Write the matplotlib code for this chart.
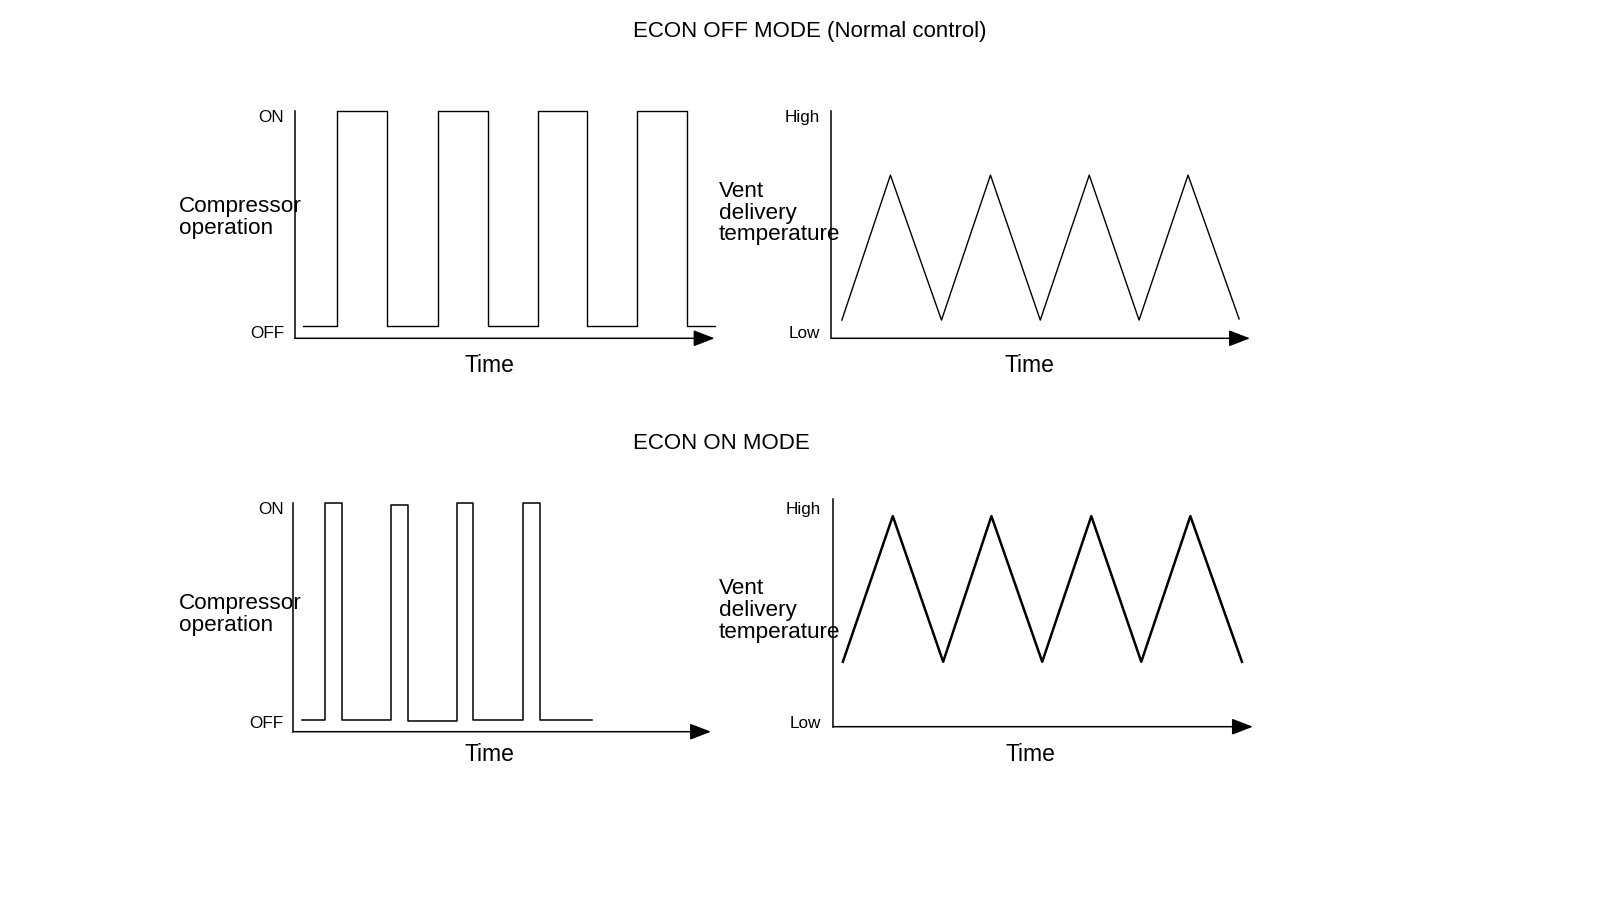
#!/usr/bin/env python3
"""
ECON OFF / ON mode comparison: compressor operation vs vent delivery temperature.
"""

import matplotlib
matplotlib.use("Agg")
import matplotlib.pyplot as plt

plt.rcParams["font.family"] = ["Liberation Sans", "DejaVu Sans"]

W, H = 1600, 919

# time axis runs 0..100 (arbitrary units), level axis 0..1 (OFF/Low .. ON/High)
off_comp_t = [1.9, 10.1, 22.0, 34.0, 45.9, 57.8, 69.7, 81.6, 93.4, 100]
off_comp_level = [0.054, 1.0, 0.054, 1.0, 0.054, 1.0, 0.054, 1.0, 0.054, 0.054]

off_vent_t = [2.5, 14.1, 26.3, 38.0, 49.9, 61.6, 73.5, 85.2, 97.4]
off_vent_level = [0.08, 0.717, 0.08, 0.717, 0.08, 0.717, 0.08, 0.717, 0.085]

on_comp_t = [2.0, 7.7, 11.7, 23.5, 27.5, 39.1, 43.1, 54.9, 59.1, 71.6]
on_comp_level = [0.05, 1.0, 0.05, 0.993, 0.047, 1.0, 0.05, 1.0, 0.05, 0.05]

on_vent_t = [2.3, 14.2, 26.2, 37.7, 49.8, 61.5, 73.4, 85.1, 97.4]
on_vent_level = [0.285, 0.925, 0.285, 0.925, 0.285, 0.925, 0.285, 0.925, 0.285]

comp_ticks = ["OFF", "ON"]
vent_ticks = ["Low", "High"]
comp_label = "Compressor\noperation"
vent_label = "Vent\ndelivery\ntemperature"


def make_axes(fig, left, right, bottom, top):
    """Axes from pixel box (origin top-left)."""
    ax = fig.add_axes([left / W, 1 - bottom / H, (right - left) / W, (bottom - top) / H])
    ax.set_xlim(0, 100)
    ax.set_ylim(0, 1)
    for s in ("top", "right", "bottom"):
        ax.spines[s].set_visible(False)
    ax.spines["left"].set_linewidth(1.1)
    ax.set_xticks([])
    ax.annotate("", xy=(1, 0), xytext=(0, 0), xycoords="axes fraction",
                arrowprops=dict(arrowstyle="-|>,head_length=0.65,head_width=0.25",
                                mutation_scale=20, lw=1.1, color="black",
                                shrinkA=0, shrinkB=0))
    return ax


def decorate(ax, ticks, tick_pos, label, label_xy, time_xy, pad=8):
    ax.set_yticks(tick_pos, ticks)
    ax.tick_params(axis="y", length=0, pad=pad, labelsize=12.3)
    ax.text(label_xy[0], label_xy[1], label, transform=ax.transAxes,
            ha="left", va="center", fontsize=16.2, linespacing=1.05)
    ax.text(time_xy[0], time_xy[1], "Time", transform=ax.transAxes,
            ha="center", va="center", fontsize=16.5)


fig = plt.figure(figsize=(W / 100, H / 100), dpi=100)

fig.text(632.7 / W, 1 - 31 / H, "ECON OFF MODE (Normal control)",
         ha="left", va="center", fontsize=16)
fig.text(633 / W, 1 - 443.5 / H, "ECON ON MODE", ha="left", va="center", fontsize=16)

# ECON OFF - compressor
ax = make_axes(fig, 295, 714.6, 338.3, 110.7)
ax.step(off_comp_t, off_comp_level, where="post", color="black", lw=1.0, clip_on=False)
decorate(ax, comp_ticks, [0.029, 0.977], comp_label, (-0.277, 0.53), (0.464, -0.118))

# ECON OFF - vent temperature
ax = make_axes(fig, 831.4, 1250, 338.3, 110.7)
ax.plot(off_vent_t, off_vent_level, color="black", lw=1.0)
decorate(ax, vent_ticks, [0.029, 0.977], vent_label, (-0.269, 0.55), (0.474, -0.118))

# ECON ON - compressor
ax = make_axes(fig, 293.2, 711, 731.7, 503.3)
ax.step(on_comp_t, on_comp_level, where="post", color="black", lw=1.1, clip_on=False)
decorate(ax, comp_ticks, [0.044, 0.978], comp_label, (-0.273, 0.512), (0.47, -0.101), pad=7)

# ECON ON - vent temperature
ax = make_axes(fig, 833.2, 1252.9, 726.7, 499)
ax.plot(on_vent_t, on_vent_level, color="black", lw=1.8)
decorate(ax, vent_ticks, [0.022, 0.959], vent_label, (-0.273, 0.51), (0.469, -0.123), pad=9)

fig.savefig("out.png", dpi=100, facecolor="white")
plt.close(fig)
